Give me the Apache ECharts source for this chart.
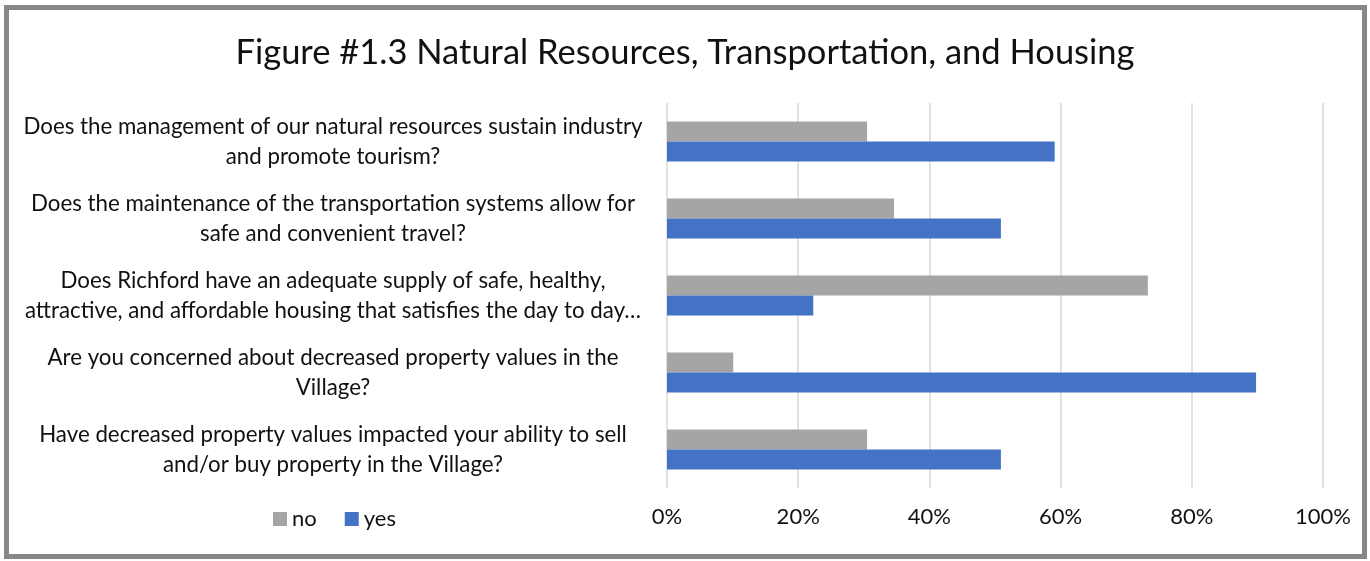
<!DOCTYPE html>
<html>
<head>
<meta charset="utf-8">
<script src="https://cdn.jsdelivr.net/npm/echarts@6/dist/echarts.min.js"></script>
<style>
  html, body { margin: 0; padding: 0; background: #fff; }
  #chart { width: 1370px; height: 561px; }
</style>
</head>
<body>
<div id="chart"></div>
<script>
// Survey answers per question, share of respondents (0-1).
const questions = [
  'Does the management of our natural resources sustain industry\nand promote tourism?',
  'Does the maintenance of the transportation systems allow for\nsafe and convenient travel?',
  'Does Richford have an adequate supply of safe, healthy,\nattractive, and affordable housing that satisfies the day to day…',
  'Are you concerned about decreased property values in the\nVillage?',
  'Have decreased property values impacted your ability to sell\nand/or buy property in the Village?'
];
const noValues = [0.305, 0.346, 0.733, 0.101, 0.305];
const yesValues = [0.591, 0.509, 0.223, 0.898, 0.509];

const FONT = 'Lato, "Open Sans", sans-serif';

const chart = echarts.init(document.getElementById('chart'));

chart.setOption({
  animation: false,
  textStyle: { fontFamily: FONT },
  title: {
    text: 'Figure #1.3 Natural Resources, Transportation, and Housing',
    left: 'center',
    top: 30,
    textStyle: { fontFamily: FONT, fontSize: 34.5, fontWeight: 'normal', color: '#111' }
  },
  legend: {
    data: ['no', 'yes'],
    left: 268,
    top: 503,
    icon: 'rect',
    itemWidth: 14,
    itemHeight: 14,
    itemGap: 28,
    textStyle: { fontFamily: FONT, fontSize: 22, color: '#111' }
  },
  grid: { left: 667, right: 47, top: 103, bottom: 73, containLabel: false },
  xAxis: {
    type: 'value',
    min: 0,
    max: 1,
    interval: 0.2,
    axisLine: { show: false },
    axisTick: { show: false },
    splitLine: { lineStyle: { color: '#d9d9d9', width: 1.5 } },
    axisLabel: {
      margin: 18,
      fontFamily: FONT,
      fontSize: 22,
      color: '#111',
      formatter: (v) => Math.round(v * 100) + '%'
    }
  },
  yAxis: {
    type: 'category',
    inverse: true,
    data: questions,
    axisLine: { show: false },
    axisTick: { show: false },
    axisLabel: {
      margin: 334,
      fontFamily: FONT,
      fontSize: 22.3,
      lineHeight: 30,
      color: '#111',
      align: 'center'
    }
  },
  series: [
    {
      name: 'no',
      type: 'bar',
      data: noValues,
      barWidth: 20,
      barGap: '0%',
      itemStyle: { color: '#a5a5a5' }
    },
    {
      name: 'yes',
      type: 'bar',
      data: yesValues,
      barWidth: 20,
      barGap: '0%',
      itemStyle: { color: '#4472c4' }
    }
  ],
  graphic: [
    {
      type: 'rect',
      silent: true,
      shape: { x: 6.5, y: 7.5, width: 1358, height: 549 },
      style: { fill: 'none', stroke: '#878787', lineWidth: 5 }
    }
  ]
});
</script>
</body>
</html>
